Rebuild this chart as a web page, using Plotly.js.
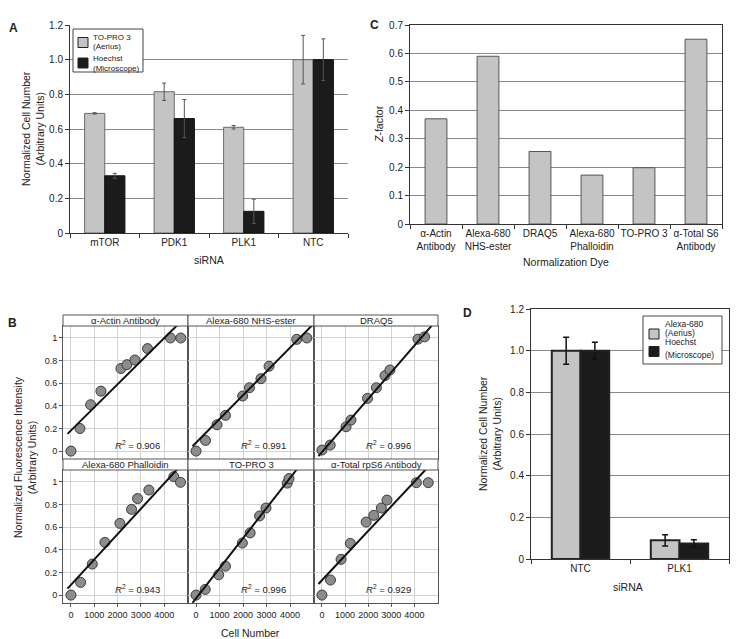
<!DOCTYPE html>
<html><head><meta charset="utf-8">
<script src="https://cdn.plot.ly/plotly-3.0.1.min.js"></script>
<style>html,body{margin:0;padding:0;background:#fff;}#chart{width:739px;height:639px;}</style>
</head><body><div id="chart"></div>
<script>
// ---------- Panel A ----------
const siRNA_A = ['mTOR', 'PDK1', 'PLK1', 'NTC'];
const toproA = [0.69, 0.815, 0.61, 1.0];
const toproAerr = [0.004, 0.05, 0.01, 0.14];
const hoechstA = [0.33, 0.66, 0.125, 1.0];
const hoechstAerr = [0.014, 0.11, 0.07, 0.12];
const ticksA = [0, 0.2, 0.4, 0.6, 0.8, 1.0, 1.2];
const tickTextA = ['0', '0.2', '0.4', '0.6', '0.8', '1.0', '1.2'];
const legendA = [['TO-PRO 3', '(Aerius)'], ['Hoechst', '(Microscope)']];

// ---------- Panel C ----------
const dyesC = ['α-Actin<br>Antibody', 'Alexa-680<br>NHS-ester', 'DRAQ5', 'Alexa-680<br>Phalloidin', 'TO-PRO 3', 'α-Total S6<br>Antibody'];
const zFactorC = [0.37, 0.59, 0.255, 0.172, 0.198, 0.65];

// ---------- Panel D ----------
const siRNA_D = ['NTC', 'PLK1'];
const alexaD = [1.0, 0.09];
const alexaDerr = [0.065, 0.027];
const hoechstD = [1.0, 0.075];
const hoechstDerr = [0.04, 0.018];
const legendD = [['Alexa-680', '(Aerius)'], ['Hoechst', '(Microscope)']];

// ---------- Panel B ----------
const panelNamesB = ['α-Actin Antibody', 'Alexa-680 NHS-ester', 'DRAQ5', 'Alexa-680 Phalloidin', 'TO-PRO 3', 'α-Total rpS6 Antibody'];
const actinX = [0, 386, 843, 1286, 2143, 2400, 2743, 3286, 4271, 4714];
const actinY = [0, 0.2, 0.41, 0.53, 0.73, 0.764, 0.805, 0.906, 1.0, 1.0];
const nhsX = [0, 403, 892, 1252, 1986, 2273, 2763, 3108, 4288, 4719];
const nhsY = [0, 0.094, 0.233, 0.316, 0.487, 0.56, 0.64, 0.75, 0.988, 1.0];
const draqX = [0, 357, 1043, 1257, 1971, 2357, 2729, 2943, 4157, 4443];
const draqY = [0.009, 0.053, 0.215, 0.274, 0.466, 0.56, 0.667, 0.717, 0.99, 1.01];
const phalX = [0, 414, 914, 1457, 2100, 2600, 2857, 3343, 4414, 4700];
const phalY = [0, 0.112, 0.274, 0.466, 0.634, 0.758, 0.853, 0.929, 1.047, 0.997];
const toproX = [0, 389, 964, 1252, 1971, 2302, 2705, 2978, 3885, 3957];
const toproY = [0, 0.05, 0.18, 0.256, 0.46, 0.55, 0.70, 0.77, 0.99, 1.03];
const rps6X = [0, 371, 829, 1229, 1914, 2243, 2571, 2814, 4086, 4600];
const rps6Y = [0, 0.133, 0.316, 0.457, 0.646, 0.705, 0.77, 0.84, 0.994, 0.994];
const fitSlope = [2.04e-4, 2.10e-4, 2.355e-4, 2.242e-4, 2.657e-4, 2.18e-4];
const fitIntercept = [0.183, 0.074, -0.0096, 0.0906, -0.028, 0.131];
const r2Values = ['0.906', '0.991', '0.996', '0.943', '0.996', '0.929'];
const cellTicks = [0, 1000, 2000, 3000, 4000];
const intensityTicks = [0, 0.2, 0.4, 0.6, 0.8, 1];

const xsB = [actinX, nhsX, draqX, phalX, toproX, rps6X];
const ysB = [actinY, nhsY, draqY, phalY, toproY, rps6Y];

const W = 739, H = 639;
const px = v => v / W;
const py = v => 1 - v / H;
const FONT = 'Liberation Sans, Arial, Helvetica, sans-serif';
const TXT = '#222';
const GRAY = '#c4c4c4', BLACK = '#1b1b1b';

const traces = [];
// A bars
traces.push({type: 'bar', x: siRNA_A, y: toproA, xaxis: 'x', yaxis: 'y', name: 'TO-PRO 3 (Aerius)', showlegend: false,
  offset: -0.29, width: 0.29, marker: {color: GRAY, line: {color: '#6a6a6a', width: 1}},
  error_y: {type: 'data', array: toproAerr, color: '#555', thickness: 1, width: 2}});
traces.push({type: 'bar', x: siRNA_A, y: hoechstA, xaxis: 'x', yaxis: 'y', name: 'Hoechst (Microscope)', showlegend: false,
  offset: 0, width: 0.29, marker: {color: BLACK, line: {color: '#111', width: 1}},
  error_y: {type: 'data', array: hoechstAerr, color: '#555', thickness: 1, width: 2}});
// C bars
traces.push({type: 'bar', x: dyesC, y: zFactorC, xaxis: 'x2', yaxis: 'y2', showlegend: false,
  width: 0.42, marker: {color: GRAY, line: {color: '#555', width: 1}}});
// D bars
traces.push({type: 'bar', x: siRNA_D, y: alexaD, xaxis: 'x3', yaxis: 'y3', name: 'Alexa-680 (Aerius)', showlegend: false,
  offset: -0.29, width: 0.29, marker: {color: GRAY, line: {color: '#222', width: 2}},
  error_y: {type: 'data', array: alexaDerr, color: '#111', thickness: 1.5, width: 3}});
traces.push({type: 'bar', x: siRNA_D, y: hoechstD, xaxis: 'x3', yaxis: 'y3', name: 'Hoechst (Microscope)', showlegend: false,
  offset: 0, width: 0.29, marker: {color: BLACK, line: {color: '#222', width: 2}},
  error_y: {type: 'data', array: hoechstDerr, color: '#111', thickness: 1.5, width: 3}});

const colDom = [[63, 188], [188, 314], [314, 438]];
const rowDom = [[326, 459], [470, 603]];
const layout = {
  width: W, height: H, margin: {l: 0, r: 0, t: 0, b: 0},
  paper_bgcolor: '#fff', plot_bgcolor: 'rgba(0,0,0,0)',
  font: {family: FONT, color: TXT, size: 10},
  barmode: 'overlay',
  showlegend: false,
  xaxis: {domain: [px(70), px(348)], anchor: 'y', type: 'category', range: [-0.5, 3.5],
    showline: true, linecolor: '#333', linewidth: 1, ticks: 'outside', tickson: 'boundaries', ticklen: 4, tickcolor: '#333',
    showgrid: false, tickfont: {size: 10}, tickangle: 0},
  yaxis: {domain: [py(233), py(25)], anchor: 'x', range: [0, 1.2], tickvals: ticksA, ticktext: tickTextA,
    showline: true, linecolor: '#333', ticks: 'outside', ticklen: 4, tickcolor: '#333', gridcolor: '#8a8a8a', gridwidth: 1,
    zeroline: false, tickfont: {size: 10}},
  xaxis2: {domain: [px(410), px(722)], anchor: 'y2', type: 'category', range: [-0.5, 5.5],
    showline: true, mirror: true, linecolor: '#333', ticks: 'outside', tickson: 'boundaries', ticklen: 4, tickcolor: '#333',
    showgrid: false, tickfont: {size: 10}, tickangle: 0, automargin: false},
  yaxis2: {domain: [py(224), py(25)], anchor: 'x2', range: [0, 0.7], dtick: 0.1,
    showline: true, mirror: true, linecolor: '#333', ticks: 'outside', ticklen: 4, tickcolor: '#333', gridcolor: '#8a8a8a',
    zeroline: false, tickfont: {size: 10}},
  xaxis3: {domain: [px(531), px(729)], anchor: 'y3', type: 'category', range: [-0.5, 1.5],
    showline: true, mirror: true, linecolor: '#333', ticks: 'outside', tickson: 'boundaries', ticklen: 4, tickcolor: '#333',
    showgrid: false, tickfont: {size: 10}, tickangle: 0},
  yaxis3: {domain: [py(559), py(309)], anchor: 'x3', range: [0, 1.2], tickvals: ticksA, ticktext: tickTextA,
    showline: true, mirror: true, linecolor: '#333', ticks: 'outside', ticklen: 4, tickcolor: '#333', gridcolor: '#8a8a8a',
    zeroline: false, tickfont: {size: 10}},
  shapes: [], annotations: []
};

for (let i = 0; i < 6; i++) {
  const r = Math.floor(i / 3), c = i % 3;
  const n = i + 4;
  const xa = 'x' + n, ya = 'y' + n;
  layout['xaxis' + n] = {domain: [px(colDom[c][0]), px(colDom[c][1])], anchor: ya, range: [-343, 5022],
    tickvals: cellTicks, showticklabels: r === 1, ticks: 'outside', ticklen: 3, tickcolor: '#555',
    showline: true, mirror: true, linecolor: '#555', gridcolor: '#d2d2d2', zeroline: false, tickfont: {size: 9}};
  layout['yaxis' + n] = {domain: [py(rowDom[r][1]), py(rowDom[r][0])], anchor: xa, range: [-0.07, 1.106],
    tickvals: intensityTicks, showticklabels: c === 0, ticks: c === 0 ? 'outside' : '', ticklen: 3, tickcolor: '#555',
    showline: true, mirror: true, linecolor: '#555', gridcolor: '#d2d2d2', zeroline: false, tickfont: {size: 9}};
  traces.push({type: 'scatter', mode: 'markers', x: xsB[i], y: ysB[i], xaxis: xa, yaxis: ya, showlegend: false,
    marker: {size: 10, color: '#8c8c8c', line: {color: '#3c3c3c', width: 1}}, cliponaxis: true});
  const lx = [-150, 5000];
  traces.push({type: 'scatter', mode: 'lines', x: lx, y: lx.map(v => fitIntercept[i] + fitSlope[i] * v),
    xaxis: xa, yaxis: ya, showlegend: false, line: {color: '#111', width: 2}});
  layout.annotations.push({xref: xa, yref: ya, x: 2870, y: 0.055, text: '<i>R</i><sup>2</sup> = ' + r2Values[i],
    showarrow: false, font: {size: 9.5}});
  const sy0 = r === 0 ? 315 : 459, sy1 = r === 0 ? 326 : 470;
  layout.shapes.push({type: 'rect', xref: 'paper', yref: 'paper', x0: px(colDom[c][0]), x1: px(colDom[c][1]),
    y0: py(sy1), y1: py(sy0), fillcolor: '#fff', line: {color: '#555', width: 1}});
  layout.annotations.push({xref: 'paper', yref: 'paper', x: px((colDom[c][0] + colDom[c][1]) / 2), y: py((sy0 + sy1) / 2),
    text: panelNamesB[i], showarrow: false, font: {size: 9.5}, xanchor: 'center', yanchor: 'middle'});
}

function note(x, y, text, opts) {
  layout.annotations.push(Object.assign({xref: 'paper', yref: 'paper', x: px(x), y: py(y), text: text,
    showarrow: false, xanchor: 'center', yanchor: 'middle', font: {size: 10.5}}, opts || {}));
}
function rect(x0, y0, x1, y1, fill, line) {
  layout.shapes.push({type: 'rect', xref: 'paper', yref: 'paper', x0: px(x0), x1: px(x1), y0: py(y1), y1: py(y0),
    fillcolor: fill, line: {color: line, width: 1}});
}
// manual legends
function legendBox(box, entries, colors, symX, symY, textX, textY, size) {
  rect(box[0], box[1], box[2], box[3], '#fff', '#444');
  entries.forEach((lines, k) => {
    rect(symX, symY[k], symX + 10, symY[k] + 10, colors[k], '#222');
    lines.forEach((t, j) => note(textX, textY[k][j], t, {xanchor: 'left', font: {size: size}}));
  });
}
legendBox([73, 29, 143, 72], legendA, [GRAY, BLACK], 78, [37.5, 58], 91, [[37.5, 46.5], [58.5, 68.5]], 8);
legendBox([643, 316, 722, 364], legendD, [GRAY, BLACK], 649, [329, 346.5], 663, [[323.5, 332.5], [341.5, 355]], 8.5);

// panel letters
note(13, 28, '<b>A</b>', {font: {size: 12}});
note(374, 25, '<b>C</b>', {font: {size: 12}});
note(12, 323, '<b>B</b>', {font: {size: 12}});
note(467, 313, '<b>D</b>', {font: {size: 12}});
// axis titles
note(33, 129, 'Normalized Cell Number<br>(Arbitrary Units)', {textangle: -90});
note(209, 260, 'siRNA');
note(379, 124, '<i>Z</i>-factor', {textangle: -90});
note(566, 262, 'Normalization Dye');
note(25, 457, 'Normalized Fluorescence Intensity<br>(Arbitrary Units)', {textangle: -90});
note(250, 633, 'Cell Number');
note(490, 434, 'Normalized Cell Number<br>(Arbitrary Units)', {textangle: -90});
note(628, 587, 'siRNA');

Plotly.newPlot('chart', traces, layout, {staticPlot: true, displayModeBar: false});
</script></body></html>
